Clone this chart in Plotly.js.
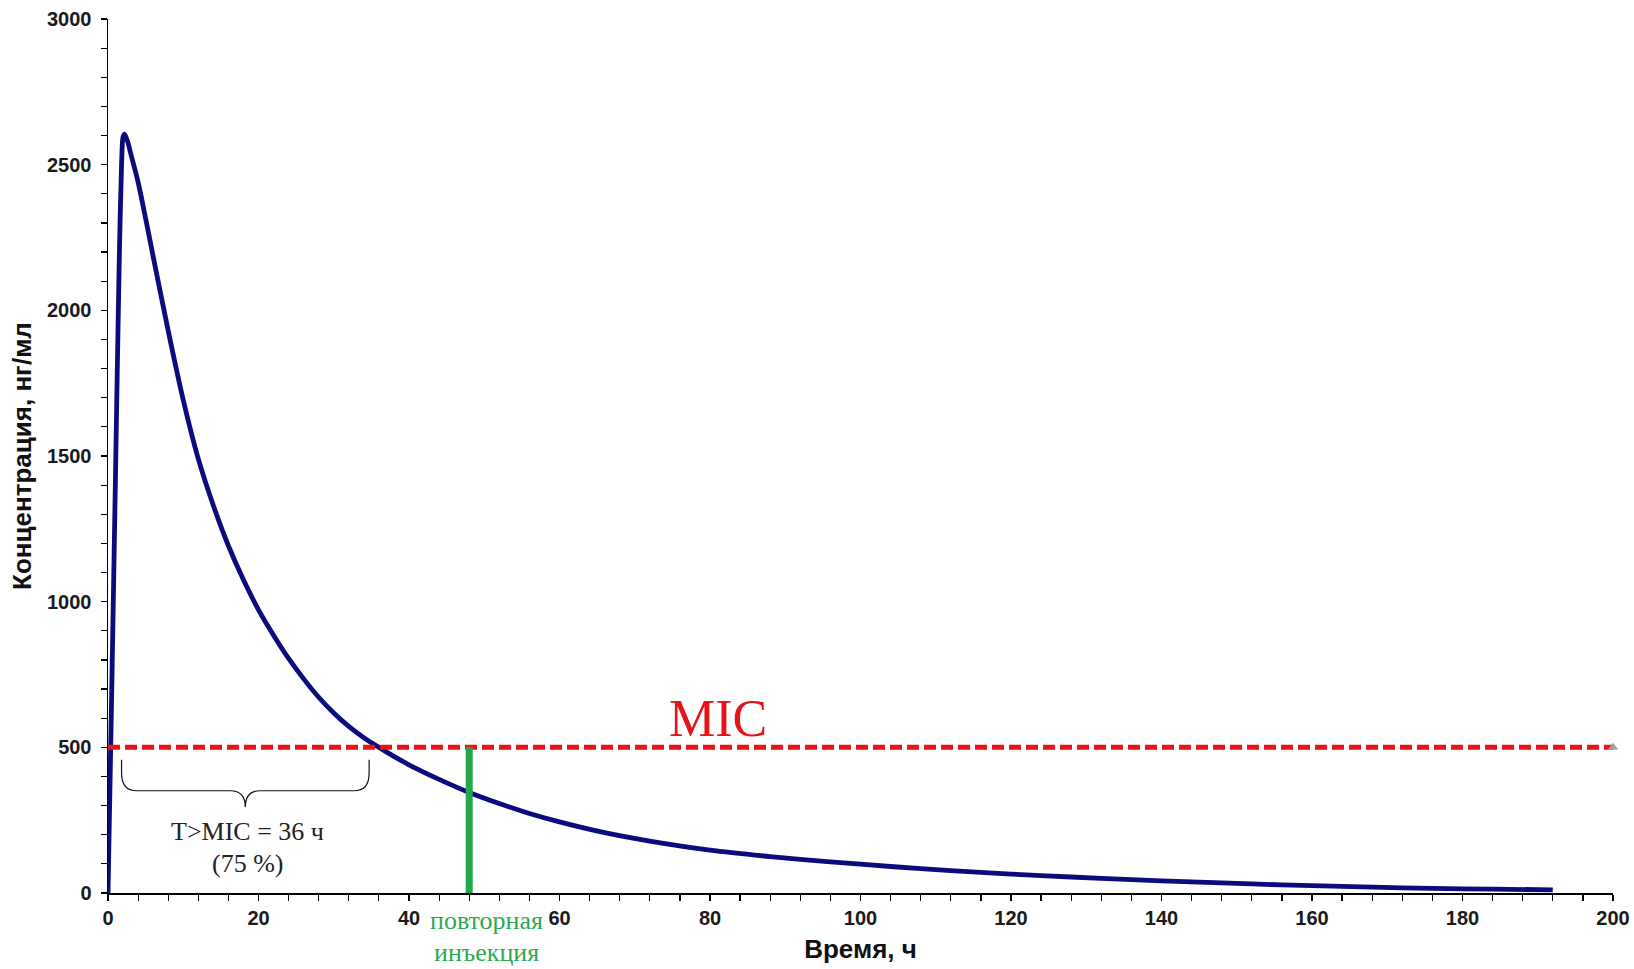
<!DOCTYPE html>
<html>
<head>
<meta charset="utf-8">
<script src="https://cdn.plot.ly/plotly-3.0.1.min.js"></script>
<style>html,body{margin:0;padding:0;background:#fff;}#chart{width:1634px;height:969px;}</style>
</head>
<body>
<div id="chart"></div>
<script>
// Time after injection, hours
const timeH = [0, 0.5, 1, 1.5, 1.8, 2, 2.2, 2.6, 3, 4, 5, 6, 8, 10, 12, 14, 16, 18, 20, 22, 24, 26, 28, 30, 32, 34, 36, 40, 44, 48, 52, 56, 60, 66, 72, 80, 88, 96, 104, 112, 120, 128, 136, 144, 152, 160, 168, 176, 184, 192];
// Plasma concentration, ng/ml
const concNgMl = [0, 700, 1440, 2180, 2500, 2595, 2605, 2580, 2540, 2440, 2315, 2185, 1930, 1692, 1490, 1330, 1192, 1075, 972, 885, 805, 735, 672, 618, 572, 533, 500, 440, 390, 345, 307, 273, 244, 207, 178, 147, 125, 107, 91, 77, 65, 55, 46, 38, 31, 25, 20, 16, 13, 11];

const micValue = 500;            // MIC level, ng/ml
const micX = [0, 200];           // MIC line span, h
const reinjectionTime = 48;      // repeated injection, h
const tAboveMic = 36;            // T>MIC, h
const tAbovePct = 75;            // %

const xTickVals = [0, 20, 40, 60, 80, 100, 120, 140, 160, 180, 200];
const yTickVals = [0, 500, 1000, 1500, 2000, 2500, 3000];

const serif = '"Liberation Serif", "Times New Roman", serif';
const sans = '"Liberation Sans", Arial, sans-serif';

const traces = [
  {
    x: timeH, y: concNgMl, type: 'scatter', mode: 'lines',
    line: {color: '#0b0b7e', width: 4.8, shape: 'spline', smoothing: 0.8},
    cliponaxis: false
  },
  {
    x: micX, y: [micValue, micValue], type: 'scatter', mode: 'lines',
    line: {color: '#ee1111', width: 5, dash: '12px,5px'},
    cliponaxis: false
  },
  {
    x: [micX[1]], y: [micValue], type: 'scatter', mode: 'markers',
    marker: {symbol: 'triangle-up', size: 9, color: '#a0a0a0'},
    cliponaxis: false
  },
  {
    x: [reinjectionTime, reinjectionTime], y: [0, micValue], type: 'scatter', mode: 'lines',
    line: {color: '#22a84a', width: 7},
    cliponaxis: false
  }
];

// Curly brace under the MIC line marking the time above MIC
const bL = 1.8, bR = 34.7, bC = (bL + bR) / 2;
const bTop = 457, bMid = 412, bLine = 351, bTip = 295, bCurve = 2;
const bracePath =
  `M ${bL},${bTop} L ${bL},${bMid} Q ${bL},${bLine} ${bL + bCurve},${bLine} ` +
  `L ${bC - bCurve},${bLine} Q ${bC},${bLine} ${bC},${bTip} ` +
  `Q ${bC},${bLine} ${bC + bCurve},${bLine} L ${bR - bCurve},${bLine} ` +
  `Q ${bR},${bLine} ${bR},${bMid} L ${bR},${bTop}`;

const layout = {
  width: 1634, height: 969,
  margin: {l: 108, r: 21, t: 19, b: 76},
  paper_bgcolor: '#ffffff', plot_bgcolor: '#ffffff',
  showlegend: false,
  xaxis: {
    range: [0, 200], tickvals: xTickVals, ticktext: xTickVals.map(String),
    showgrid: false, zeroline: false, showline: true, linecolor: '#000', linewidth: 1.5,
    ticks: 'outside', ticklen: 6, tickwidth: 1.2, tickcolor: '#000',
    minor: {dtick: 4, ticks: 'outside', ticklen: 6, tickwidth: 1.2, tickcolor: '#000', showgrid: false},
    tickfont: {family: sans, size: 20, color: '#1a1a1a', weight: 'bold'},
    title: {text: '<b>Время, ч</b>', font: {family: sans, size: 26, color: '#111'}, standoff: 12}
  },
  yaxis: {
    range: [0, 3000], tickvals: yTickVals, ticktext: yTickVals.map(String),
    showgrid: false, zeroline: false, showline: true, linecolor: '#000', linewidth: 1.5,
    ticks: 'outside', ticklen: 6, tickwidth: 1.2, tickcolor: '#000',
    ticklabelstandoff: 5,
    minor: {dtick: 100, ticks: 'outside', ticklen: 6, tickwidth: 1.2, tickcolor: '#000', showgrid: false},
    tickfont: {family: sans, size: 20, color: '#1a1a1a', weight: 'bold'},
    title: {text: '<b>Концентрация, нг/мл</b>', font: {family: sans, size: 26, color: '#111'}, standoff: 8}
  },
  shapes: [
    {type: 'path', xref: 'x', yref: 'y', path: bracePath, line: {color: '#111', width: 1.2}}
  ],
  annotations: [
    {x: 81, y: 600, xref: 'x', yref: 'y', text: 'MIC', showarrow: false,
     font: {family: serif, size: 52, color: '#e5141a'}},
    {x: 18.5, y: 210, xref: 'x', yref: 'y',
     text: `T&gt;MIC = ${tAboveMic} ч`, showarrow: false,
     font: {family: serif, size: 26, color: '#222'}},
    {x: 18.5, y: 100, xref: 'x', yref: 'y',
     text: `(${tAbovePct} %)`, showarrow: false,
     font: {family: serif, size: 26, color: '#222'}},
    {x: 50.3, y: -0.032, xref: 'x', yref: 'paper', yanchor: 'middle', text: 'повторная', showarrow: false,
     font: {family: serif, size: 26, color: '#2fa851'}},
    {x: 50.3, y: -0.068, xref: 'x', yref: 'paper', yanchor: 'middle', text: 'инъекция', showarrow: false,
     font: {family: serif, size: 26, color: '#2fa851'}}
  ]
};

Plotly.newPlot('chart', traces, layout, {displayModeBar: false, staticPlot: true});
</script>
</body>
</html>
